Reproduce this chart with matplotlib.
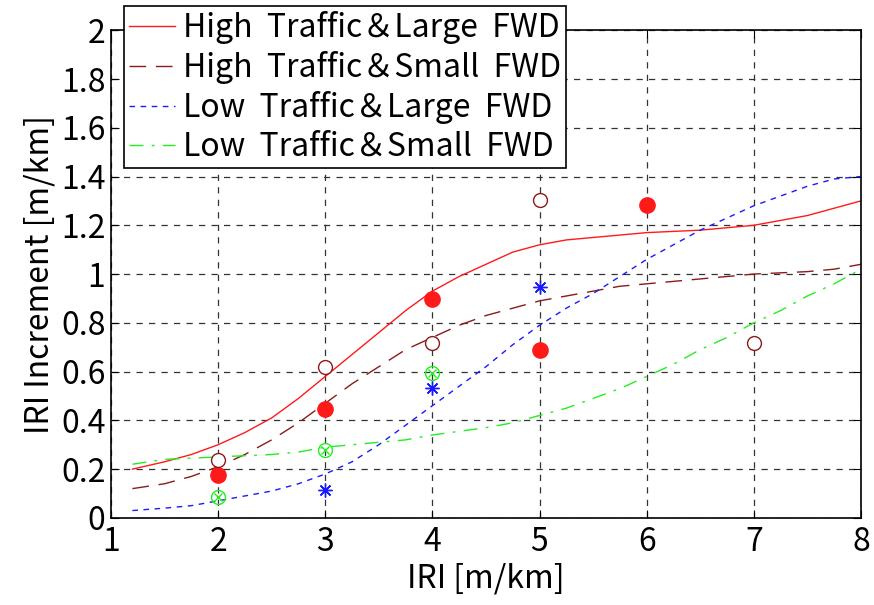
import numpy as np
import matplotlib
matplotlib.use("Agg")
import matplotlib.pyplot as plt

plt.rcParams['font.family'] = ['Noto Sans CJK JP', 'DejaVu Sans']

# fitted curves
curve_x = [1.2, 1.5, 1.75, 2.0, 2.25, 2.5, 2.75, 3.0, 3.25, 3.5, 3.75, 4.0, 4.25, 4.5,
           4.75, 5.0, 5.25, 5.5, 5.75, 6.0, 6.25, 6.5, 6.75, 7.0, 7.25, 7.5, 7.75, 8.0]
high_large = [0.20, 0.23, 0.26, 0.30, 0.35, 0.41, 0.49, 0.58, 0.67, 0.76, 0.85, 0.93, 0.99, 1.04,
              1.09, 1.12, 1.14, 1.15, 1.16, 1.17, 1.175, 1.18, 1.19, 1.20, 1.22, 1.24, 1.27, 1.30]
high_small = [0.12, 0.14, 0.17, 0.21, 0.26, 0.32, 0.39, 0.47, 0.55, 0.62, 0.69, 0.74, 0.79, 0.83,
              0.86, 0.89, 0.91, 0.93, 0.95, 0.96, 0.97, 0.98, 0.99, 1.00, 1.005, 1.01, 1.02, 1.04]
low_large = [0.03, 0.04, 0.05, 0.07, 0.09, 0.11, 0.14, 0.18, 0.23, 0.30, 0.38, 0.46, 0.54, 0.62,
             0.71, 0.79, 0.86, 0.92, 0.99, 1.06, 1.12, 1.18, 1.23, 1.28, 1.32, 1.36, 1.39, 1.40]
low_small = [0.22, 0.24, 0.245, 0.25, 0.255, 0.26, 0.27, 0.29, 0.30, 0.31, 0.32, 0.34, 0.355, 0.37,
             0.39, 0.42, 0.45, 0.49, 0.53, 0.58, 0.63, 0.69, 0.74, 0.80, 0.85, 0.91, 0.96, 1.02]

# measured points
hl_x = [2, 3, 4, 5, 6]
hl_y = [0.175, 0.447, 0.898, 0.689, 1.283]
hs_x = [2, 3, 4, 5, 7]
hs_y = [0.238, 0.619, 0.717, 1.303, 0.717]
ll_x = [3, 4, 5]
ll_y = [0.115, 0.533, 0.947]
ls_x = [2, 3, 4]
ls_y = [0.086, 0.279, 0.594]

labels = ['High  Traffic＆Large  FWD', 'High  Traffic＆Small  FWD',
          'Low  Traffic＆Large  FWD', 'Low  Traffic＆Small  FWD']

RED = '#ff1a1a'
DARK = '#8b1a1a'
BLUE = '#1a1aff'
GREEN = '#22ee22'

fig = plt.figure(figsize=(8.74, 6.05), dpi=100)
ax = fig.add_axes([0.127, 0.144, 0.858, 0.806])

l1, = ax.plot(curve_x, high_large, color=RED, lw=1.0, label=labels[0])
l2, = ax.plot(curve_x, high_small, color=DARK, lw=1.0, dashes=(12, 7), label=labels[1])
l3, = ax.plot(curve_x, low_large, color=BLUE, lw=1.0, dashes=(4, 4), label=labels[2])
l4, = ax.plot(curve_x, low_small, color=GREEN, lw=1.0, dashes=(10, 6, 2, 6), label=labels[3])

ax.plot(hl_x, hl_y, 'o', color=RED, ms=11, mec=RED)
ax.plot(hs_x, hs_y, 'o', mfc='white', mec=DARK, ms=10, mew=1.0)
ax.plot(ll_x, ll_y, marker=(8, 2, 0), ls='none', color=BLUE, ms=10, mew=1.0)
ax.plot(ls_x, ls_y, 'o', mfc='none', mec=GREEN, ms=10, mew=1.0)
ax.plot(ls_x, ls_y, 'x', color=GREEN, ms=6, mew=1.0)

ax.set_xlim(1, 8)
ax.set_ylim(0, 2)
ax.set_xticks(range(1, 9))
ax.set_yticks(np.arange(0, 2.01, 0.2))
ax.set_yticklabels(['0', '0.2', '0.4', '0.6', '0.8', '1', '1.2', '1.4', '1.6', '1.8', '2'])
ax.tick_params(direction='in', top=True, right=True, labelsize=23, length=6)
ax.tick_params(axis='x', pad=6)
ax.tick_params(axis='y', pad=4)
ax.grid(True, color='#333333', ls=(0, (5, 5)), lw=0.9)
for s in ax.spines.values():
    s.set_linewidth(1.2)

ax.set_xlabel('IRI [m/km]', fontsize=23, labelpad=3)
ax.set_ylabel('IRI Increment [m/km]', fontsize=23, labelpad=4)

leg = ax.legend(handles=[l1, l2, l3, l4], loc='upper left',
                bbox_to_anchor=(0.142, 0.99), bbox_transform=fig.transFigure,
                fontsize=23, handlelength=1.45, handletextpad=0.25,
                labelspacing=0.22, borderpad=0.15, borderaxespad=0, frameon=True,
                fancybox=False, framealpha=1, edgecolor='black')
leg.get_frame().set_linewidth(1.2)

fig.savefig('out.png', dpi=100)
